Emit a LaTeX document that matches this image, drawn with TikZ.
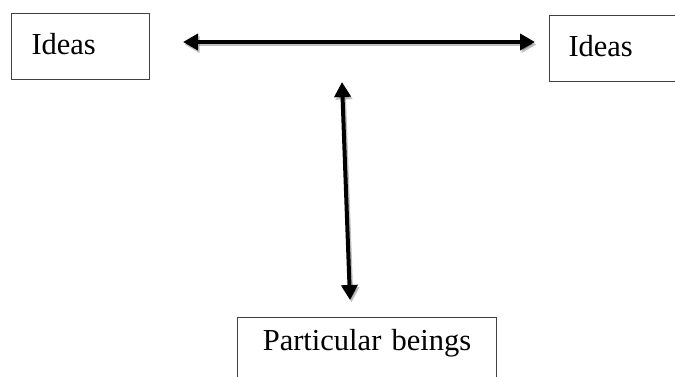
\documentclass[tikz,border=0pt]{standalone}
\usepackage{fontspec}
\setmainfont{Liberation Serif}
\usetikzlibrary{arrows.meta}
\begin{document}
\begin{tikzpicture}[x=1pt,y=-1pt,
  box/.style={draw=black!75, line width=1pt, rectangle, inner ysep=0pt,
    font=\fontsize{30.5}{36}\selectfont, anchor=north west},
  link/.style={line width=4pt, {Triangle[length=15pt,width=16pt]}-{Triangle[length=15pt,width=16pt]}},
  shade/.style={link, draw=black, opacity=0.25, transform canvas={shift={(1.5pt,-2.5pt)}}}
]
\useasboundingbox (0,0) rectangle (675,377);
\clip (0,0) rectangle (675,377);
\fill[white] (0,0) rectangle (675,377);
\node[box, inner xsep=20pt, text width=98pt, align=left, text height=41pt, text depth=25pt] (L) at (11,13) {Ideas};
\node[box, inner xsep=19pt, text width=120pt, align=left, text height=41pt, text depth=25pt] (R) at (549,15) {Ideas};
\node[box, inner xsep=0pt, text width=259pt, align=center, text height=33pt, text depth=80pt] (P) at (237,317) {Particular beings};
\coordinate (h1) at (183,42);
\coordinate (h2) at (535,42);
\coordinate (v1) at (342,82);
\coordinate (v2) at (350,300);
\draw[shade] (h1) -- (h2);
\draw[shade] (v1) -- (v2);
\draw[link] (h1) -- (h2);
\draw[link] (v1) -- (v2);
\end{tikzpicture}
\end{document}
